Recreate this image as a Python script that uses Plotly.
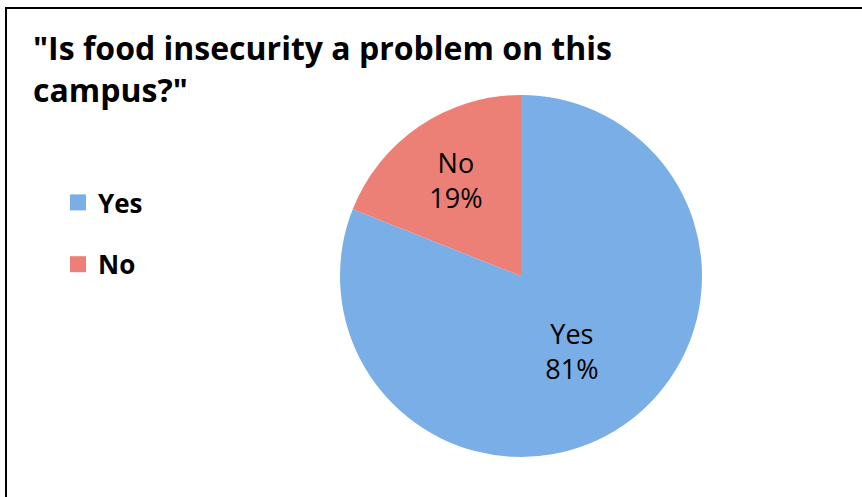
import plotly.graph_objects as go

categories = ["Yes", "No"]
values = [81, 19]
colors = ["#7aaee6", "#ec8077"]
title_text = '"Is food insecurity a problem on this<br>campus?"'

W, H = 862, 497

fig = go.Figure()

fig.add_trace(go.Pie(
    labels=categories,
    values=values,
    sort=False,
    direction="clockwise",
    rotation=0,
    marker=dict(colors=colors, line=dict(width=0)),
    textinfo="label+percent",
    textposition="inside",
    insidetextorientation="horizontal",
    textfont=dict(family="Open Sans", size=27, color="#000000"),
    showlegend=False,
    hoverinfo="label+percent",
    domain=dict(x=[(521 - 181) / W, (521 + 181) / W],
                y=[(H - 457) / H, (H - 95) / H]),
))

# legend entries
for cat, col in zip(categories, colors):
    fig.add_trace(go.Scatter(
        x=[None], y=[None], mode="markers", name=cat,
        legendgroup=cat,
        marker=dict(symbol="square", size=16, color=col),
        showlegend=True,
    ))

fig.update_layout(
    width=W, height=H,
    margin=dict(l=0, r=0, t=0, b=0),
    paper_bgcolor="white",
    plot_bgcolor="white",
    xaxis=dict(visible=False),
    yaxis=dict(visible=False),
    annotations=[dict(
        text=title_text,
        font=dict(family="Open Sans", size=32, color="#000000", weight="bold"),
        x=31 / W, xanchor="left", xref="paper",
        y=1 - 24 / H, yanchor="top", yref="paper",
        align="left", showarrow=False,
    )],
    legend=dict(
        x=58 / W, xanchor="left",
        y=1 - 179 / H, yanchor="top",
        font=dict(family="Open Sans", size=26, color="#000000", weight="bold"),
        tracegroupgap=25,
        itemsizing="trace",
        bgcolor="rgba(0,0,0,0)",
    ),
    shapes=[dict(
        type="rect", xref="paper", yref="paper",
        x0=6 / W, x1=1.05, y0=-0.05, y1=1 - 8 / H,
        line=dict(color="black", width=2),
        fillcolor="rgba(0,0,0,0)",
        layer="above",
    )],
)

fig.write_html("out.html")
